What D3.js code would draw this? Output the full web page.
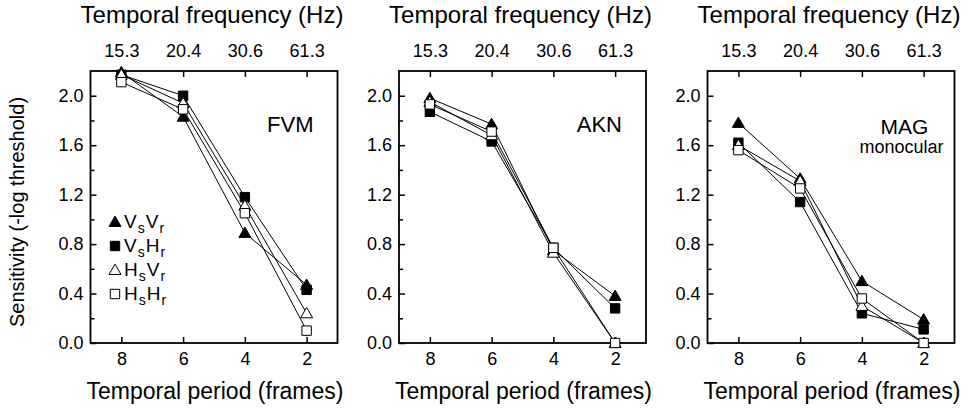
<!DOCTYPE html>
<html><head><meta charset="utf-8">
<script src="https://cdn.jsdelivr.net/npm/d3@7"></script>
<style>body{margin:0;background:#fff}svg{display:block;font-family:"Liberation Sans",Arial,sans-serif}</style>
</head><body><div id="chart"></div>
<script>
const frames = [8, 6, 4, 2];
const freqLabels = ["15.3", "20.4", "30.6", "61.3"];
const yTicks = [0, 0.4, 0.8, 1.2, 1.6, 2.0];
const yMinorTicks = [0.2, 0.6, 1.0, 1.4, 1.8];
const subjects = ["FVM", "AKN", "MAG"];
const subjectNotes = ["", "", "monocular"];
const seriesNames = [["V","s","V","r"], ["V","s","H","r"], ["H","s","V","r"], ["H","s","H","r"]];
const seriesMarkers = ["triangle", "square", "triangle", "square"];
const seriesFilled = [true, true, false, false];
// values per subject, per series (VsVr, VsHr, HsVr, HsHr), at frames 8,6,4,2
const fvm = [[2.19, 1.83, 0.89, 0.47], [2.17, 2.00, 1.18, 0.43], [2.17, 1.94, 1.11, 0.24], [2.11, 1.89, 1.05, 0.10]];
const akn = [[1.98, 1.77, 0.75, 0.38], [1.87, 1.63, 0.77, 0.28], [1.95, 1.68, 0.73, 0.0], [1.93, 1.71, 0.77, 0.0]];
const mag = [[1.78, 1.33, 0.50, 0.19], [1.62, 1.14, 0.24, 0.11], [1.60, 1.31, 0.30, 0.0], [1.56, 1.25, 0.36, 0.0]];
const allData = [fvm, akn, mag];

const W = 971, H = 410;
const svg = d3.select("#chart").append("svg").attr("width", W).attr("height", H);
const panelLeft = [90.5, 399, 707.5], pw = 247, plotTop = 71, plotBottom = 343;
const y = d3.scaleLinear().domain([0, 2.2]).range([plotBottom, plotTop]);

allData.forEach((data, p) => {
  const g = svg.append("g");
  const x = d3.scaleLinear().domain([9, 1]).range([panelLeft[p], panelLeft[p] + pw]);
  g.append("rect").attr("x", x(9)).attr("y", y(2.2)).attr("width", x(1) - x(9)).attr("height", y(0) - y(2.2))
    .attr("fill", "none").attr("stroke", "#000").attr("stroke-width", 1.8);
  g.append("g").attr("transform", `translate(0,${plotBottom})`)
    .call(d3.axisBottom(x).tickValues(frames).tickSize(-6).tickPadding(9).tickFormat(d3.format("d")));
  g.append("g").attr("transform", `translate(0,${plotTop})`)
    .call(d3.axisTop(x).tickValues(frames).tickSize(-6).tickPadding(14).tickFormat((d, i) => freqLabels[i]));
  g.append("g").attr("transform", `translate(${panelLeft[p]},0)`)
    .call(d3.axisLeft(y).tickValues(yTicks).tickSize(-6).tickPadding(7).tickFormat(d3.format(".1f")));
  g.append("g").attr("transform", `translate(${panelLeft[p]},0)`)
    .call(d3.axisLeft(y).tickValues(yMinorTicks).tickSize(-4).tickFormat(""));
  g.selectAll(".domain").remove();
  g.selectAll(".tick line").attr("stroke", "#000").attr("stroke-width", 1.5);
  g.selectAll(".tick text").attr("fill", "#000").attr("font-size", 18).attr("font-family", "Liberation Sans, Arial, sans-serif");

  const cx = (x(9) + x(1)) / 2;
  g.append("text").attr("x", cx - 2).attr("y", 23).attr("text-anchor", "middle").attr("font-size", 24).text("Temporal frequency (Hz)");
  g.append("text").attr("x", cx + 1).attr("y", 399).attr("text-anchor", "middle").attr("font-size", 23).text("Temporal period (frames)");

  if (subjectNotes[p]) {
    g.append("text").attr("x", x(1) - 50).attr("y", 134).attr("text-anchor", "middle").attr("font-size", 21).text(subjects[p]);
    g.append("text").attr("x", x(1) - 53).attr("y", 153).attr("text-anchor", "middle").attr("font-size", 18).text(subjectNotes[p]);
  } else {
    g.append("text").attr("x", x(1) - 24).attr("y", 132).attr("text-anchor", "end").attr("font-size", 22).text(subjects[p]);
  }

  const line = d3.line().x((d, i) => x(frames[i])).y(d => y(d));
  const sym = (k) => seriesMarkers[k] === "triangle" ? d3.symbol(d3.symbolTriangle, 62)() : d3.symbol(d3.symbolSquare, 88)();
  data.forEach((vals) => {
    g.append("path").attr("d", line(vals)).attr("fill", "none").attr("stroke", "#000").attr("stroke-width", 1);
  });
  data.forEach((vals, k) => {
    g.selectAll(null).data(vals).enter().append("path")
      .attr("d", sym(k))
      .attr("transform", (d, i) => `translate(${x(frames[i])},${y(d) + (seriesMarkers[k] === "triangle" ? 1 : 0)})`)
      .attr("fill", seriesFilled[k] ? "#000" : "#fff")
      .attr("stroke", "#000").attr("stroke-width", 1);
  });

  if (p === 0) {
    const ly0 = 222, step = 24;
    seriesNames.forEach((nm, k) => {
      const yy = ly0 + k * step;
      g.append("path").attr("d", sym(k)).attr("transform", `translate(${115},${yy + (seriesMarkers[k] === "triangle" ? 1 : 0)})`)
        .attr("fill", seriesFilled[k] ? "#000" : "#fff").attr("stroke", "#000").attr("stroke-width", 1);
      const t = g.append("text").attr("x", 124).attr("y", yy + 6).attr("font-size", 19);
      t.append("tspan").text(nm[0]);
      t.append("tspan").attr("font-size", 14).attr("dy", 5).attr("dx", 1).text(nm[1]);
      t.append("tspan").attr("dy", -5).attr("dx", 1).text(nm[2]);
      t.append("tspan").attr("font-size", 14).attr("dy", 5).attr("dx", 1).text(nm[3]);
    });
  }
});

svg.append("text").attr("transform", `translate(24,${(plotTop + plotBottom) / 2 + 5}) rotate(-90)`)
  .attr("text-anchor", "middle").attr("font-size", 20).text("Sensitivity (-log threshold)");
</script></body></html>
